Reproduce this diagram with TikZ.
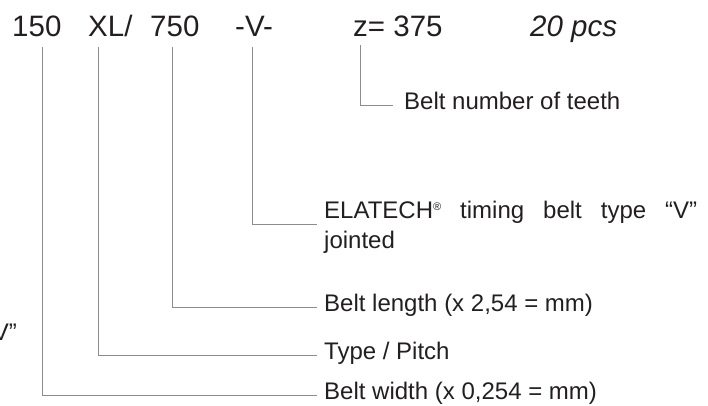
\documentclass[tikz,border=0pt]{standalone}
\usepackage{fontspec}
\setmainfont{Liberation Sans}
\definecolor{ink}{HTML}{231F20}
\definecolor{leader}{HTML}{8C8C8C}

\begin{document}
\begin{tikzpicture}[x=1pt,y=-1pt,
    code/.style={anchor=base west, inner sep=0pt, text=ink,
                 font=\fontsize{29.5}{35}\selectfont},
    desc/.style={anchor=base west, inner xsep=7pt, inner ysep=0pt, text=ink,
                 font=\fontsize{24}{30}\selectfont},
    lead/.style={draw=leader, line width=1pt}]
  \useasboundingbox (0,0) rectangle (708,406);

  % order code
  \node[code] (cwidth) at (12,37)  {150};
  \node[code] (cpitch) at (88,37)  {XL/};
  \node[code] (clen)   at (150,37) {750};
  \node[code] (ctype)  at (235,37) {-V-};
  \node[code] (cteeth) at (353,37) {z= 375};
  \node[code] (cqty)   at (530,37) {\itshape 20 pcs};

  % descriptions
  \node[desc, inner xsep=11pt] (lteeth) at (393,110) {Belt number of teeth};
  \node[desc, text width=373pt, align=justify] (ltype) at (317,218)
    {ELATECH\raisebox{8pt}{\fontsize{11}{11}\selectfont ®} timing belt type “V”\linebreak jointed};
  \node[desc] (llen)   at (317,311) {Belt length (x 2,54 = mm)};
  \node[desc] (lpitch) at (317,359) {Type / Pitch};
  \node[desc] (lwidth) at (317,399) {Belt width (x 0,254 = mm)};
  \node[desc, anchor=base east, inner xsep=0pt] (lcut) at (17,340) {“V”};

  % leaders
  \coordinate (twidth) at (42,47);
  \coordinate (tpitch) at (98,47);
  \coordinate (tlen)   at (172,47);
  \coordinate (ttype)  at (252,47);
  \coordinate (tteeth) at (360,45);
  \draw[lead] (tteeth) |- ([yshift=4pt]lteeth.base west);
  \draw[lead] (ttype)  |- ([yshift=-6pt]ltype.base west);
  \draw[lead] (tlen)   |- ([yshift=4pt]llen.base west);
  \draw[lead] (tpitch) |- ([yshift=4pt]lpitch.base west);
  \draw[lead] (twidth) |- ([yshift=4pt]lwidth.base west);
\end{tikzpicture}
\end{document}
